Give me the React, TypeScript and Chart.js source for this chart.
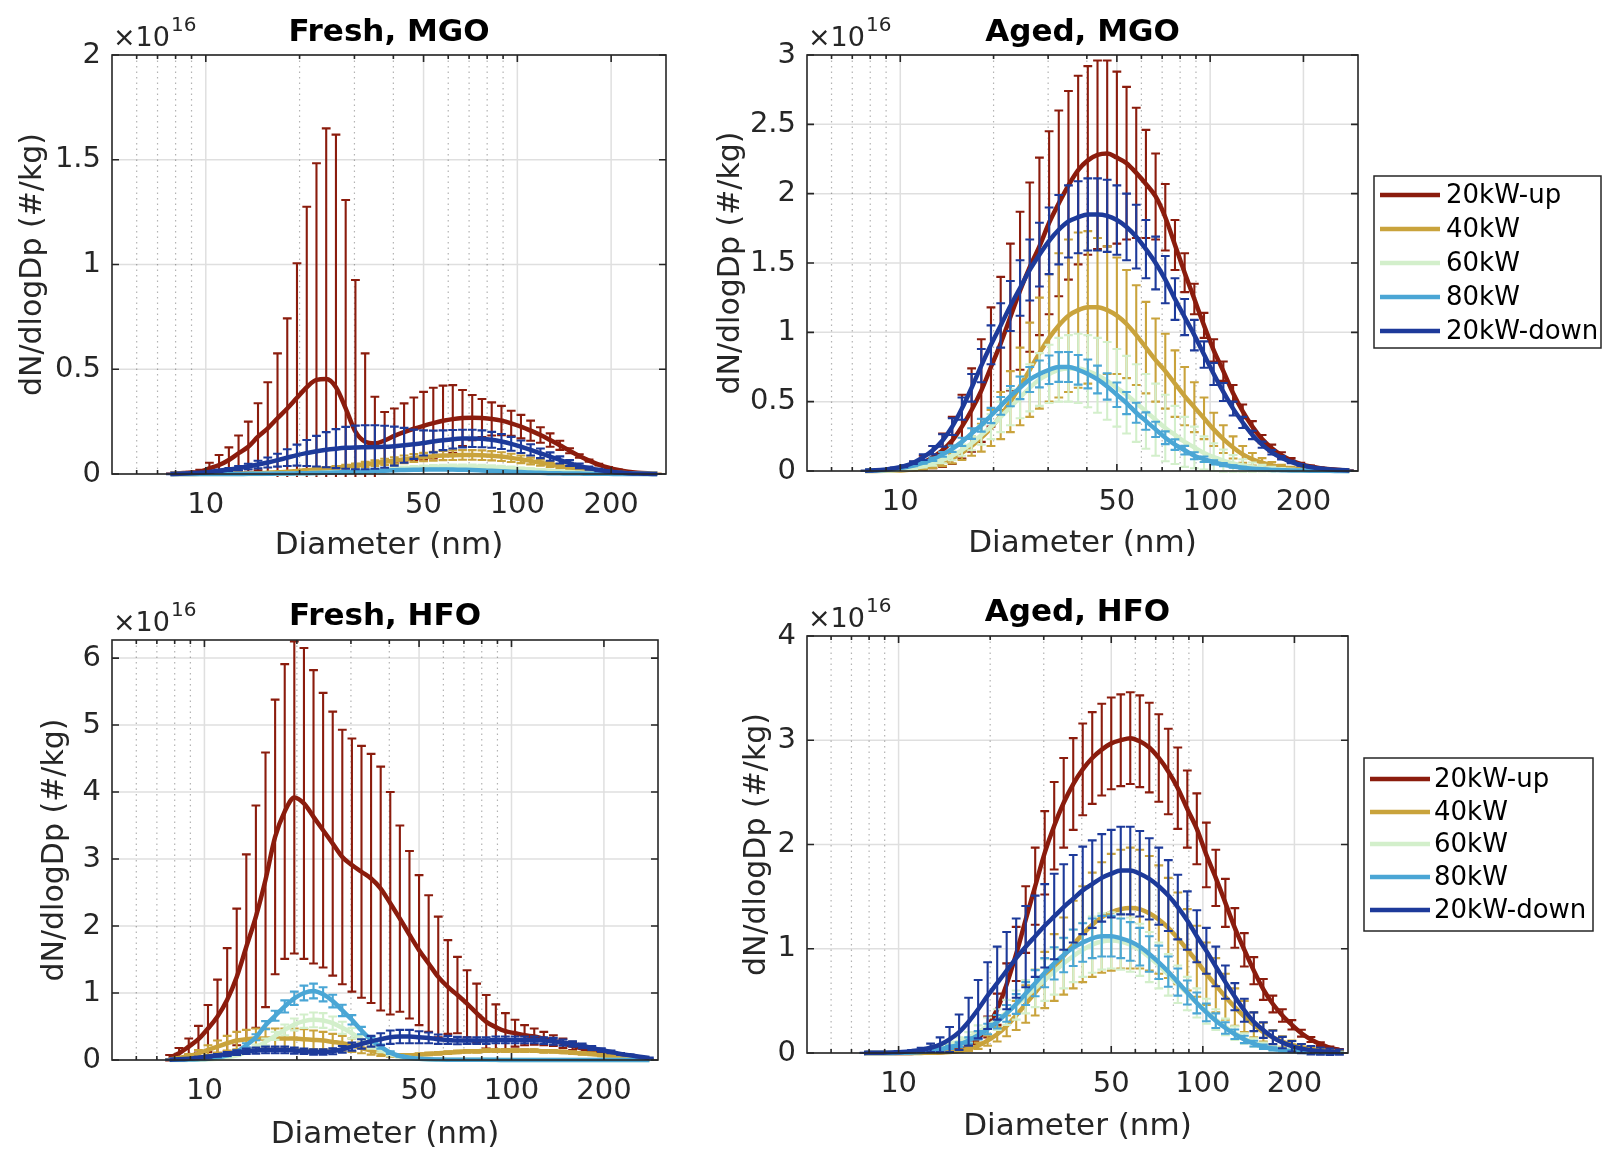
import React, { useEffect, useRef } from 'react';
import { Chart, registerables } from 'chart.js';

Chart.register(...registerables);

const FONT = "'DejaVu Sans', sans-serif";

// Particle diameters (nm), shared by every panel
const diameters = [
  7.70, 8.27, 8.89, 9.56, 10.27, 11.03, 11.86, 12.74, 13.69, 14.71,
  15.81, 16.99, 18.26, 19.62, 21.09, 22.66, 24.35, 26.17, 28.12, 30.22,
  32.47, 34.89, 37.50, 40.29, 43.30, 46.53, 50.00, 53.73, 57.74, 62.05,
  66.68, 71.65, 77.00, 82.74, 88.92, 95.55, 102.7, 110.3, 118.6, 127.4,
  136.9, 147.1, 158.1, 169.9, 182.6, 196.2, 210.9, 226.6, 243.5, 261.7,
  281.2,
];

const seriesLabels = ['20kW-up', '40kW', '60kW', '80kW', '20kW-down'];
const seriesColors = ['#8b1c0d', '#c9a33c', '#d3efcb', '#4aa6d5', '#1d3a9a'];

const xLabelTicks = [10, 50, 100, 200];
const xMinorTicks = [6, 7, 8, 9, 20, 30, 40, 60, 70, 80, 90];
const xGridTicks = [6, 7, 8, 9, 10, 20, 30, 40, 50, 60, 70, 80, 90, 100, 200];

const freshMgoYTicks = [0, 0.5, 1, 1.5, 2];
const agedMgoYTicks = [0, 0.5, 1, 1.5, 2, 2.5, 3];
const freshHfoYTicks = [0, 1, 2, 3, 4, 5, 6];
const agedHfoYTicks = [0, 1, 2, 3, 4];

// ---------- Fresh, MGO (x1e16 #/kg) ----------
const freshMgoUp = [
  0.002, 0.004, 0.006, 0.01, 0.027, 0.043, 0.067, 0.099, 0.13, 0.178,
  0.218, 0.266, 0.313, 0.364, 0.414, 0.449, 0.453, 0.414, 0.313, 0.202,
  0.154, 0.146, 0.16, 0.182, 0.2, 0.216, 0.23, 0.243, 0.254, 0.262,
  0.267, 0.269, 0.267, 0.263, 0.255, 0.242, 0.226, 0.207, 0.186, 0.162,
  0.137, 0.111, 0.086, 0.064, 0.045, 0.03, 0.019, 0.011, 0.006, 0.003,
  0.001,
];
const freshMgoUpErr = [
  0, 0.002, 0.004, 0.01, 0.027, 0.048, 0.06, 0.085, 0.12, 0.16,
  0.22, 0.31, 0.43, 0.642, 0.862, 1.034, 1.197, 1.206, 0.995, 0.724,
  0.422, 0.223, 0.136, 0.131, 0.137, 0.149, 0.162, 0.169, 0.168, 0.162,
  0.134, 0.108, 0.091, 0.079, 0.07, 0.06, 0.056, 0.048, 0.037, 0.032,
  0.022, 0.012, 0.008, 0.005, 0.004, 0.003, 0.002, 0.001, 0.001, 0.001,
  0,
];
const freshMgo40 = [
  0, 0, 0, 0.001, 0.001, 0.001, 0.002, 0.002, 0.003, 0.004,
  0.006, 0.008, 0.011, 0.014, 0.018, 0.022, 0.026, 0.03, 0.035, 0.04,
  0.046, 0.052, 0.058, 0.064, 0.07, 0.076, 0.081, 0.085, 0.088, 0.09,
  0.091, 0.091, 0.09, 0.087, 0.083, 0.077, 0.07, 0.062, 0.054, 0.046,
  0.038, 0.031, 0.024, 0.018, 0.013, 0.009, 0.006, 0.004, 0.002, 0.001,
  0.001,
];
const freshMgo40Err = [
  0, 0, 0, 0, 0, 0, 0.001, 0.001, 0.001, 0.001,
  0.002, 0.002, 0.003, 0.004, 0.005, 0.006, 0.007, 0.008, 0.009, 0.01,
  0.012, 0.013, 0.015, 0.016, 0.018, 0.019, 0.02, 0.021, 0.022, 0.023,
  0.023, 0.023, 0.023, 0.022, 0.021, 0.02, 0.018, 0.016, 0.014, 0.012,
  0.01, 0.008, 0.006, 0.005, 0.004, 0.003, 0.002, 0.001, 0.001, 0,
  0,
];
const freshMgo60 = [
  0, 0, 0, 0, 0, 0, 0, 0, 0, 0,
  0.001, 0.001, 0.002, 0.003, 0.004, 0.005, 0.007, 0.009, 0.011, 0.013,
  0.016, 0.019, 0.022, 0.025, 0.027, 0.029, 0.031, 0.033, 0.034, 0.035,
  0.035, 0.035, 0.034, 0.032, 0.03, 0.027, 0.024, 0.021, 0.018, 0.015,
  0.012, 0.009, 0.007, 0.005, 0.004, 0.003, 0.002, 0.001, 0.001, 0,
  0,
];
const freshMgo60Err = [
  0, 0, 0, 0, 0, 0, 0, 0, 0, 0,
  0, 0, 0.001, 0.001, 0.001, 0.002, 0.002, 0.003, 0.003, 0.004,
  0.005, 0.006, 0.007, 0.008, 0.008, 0.009, 0.009, 0.01, 0.01, 0.01,
  0.01, 0.01, 0.01, 0.01, 0.009, 0.008, 0.007, 0.006, 0.005, 0.005,
  0.004, 0.003, 0.002, 0.002, 0.001, 0.001, 0.001, 0, 0, 0,
  0,
];
const freshMgo80 = [
  0, 0, 0, 0, 0, 0, 0, 0, 0.001, 0.001,
  0.001, 0.002, 0.002, 0.003, 0.004, 0.005, 0.006, 0.007, 0.009, 0.01,
  0.012, 0.014, 0.016, 0.018, 0.019, 0.02, 0.021, 0.022, 0.022, 0.021,
  0.02, 0.019, 0.017, 0.015, 0.013, 0.011, 0.009, 0.007, 0.006, 0.004,
  0.003, 0.002, 0.002, 0.001, 0.001, 0.001, 0, 0, 0, 0,
  0,
];
const freshMgo80Err = [
  0, 0, 0, 0, 0, 0, 0, 0, 0, 0,
  0, 0, 0, 0.001, 0.001, 0.001, 0.001, 0.001, 0.002, 0.002,
  0.002, 0.002, 0.003, 0.003, 0.003, 0.003, 0.003, 0.003, 0.003, 0.003,
  0.003, 0.003, 0.003, 0.002, 0.002, 0.002, 0.001, 0.001, 0.001, 0.001,
  0, 0, 0, 0, 0, 0, 0, 0, 0, 0,
  0,
];
const freshMgoDown = [
  0, 0.001, 0.003, 0.006, 0.01, 0.015, 0.021, 0.028, 0.036, 0.045,
  0.055, 0.066, 0.078, 0.09, 0.1, 0.109, 0.116, 0.121, 0.125, 0.127,
  0.128, 0.129, 0.13, 0.133, 0.137, 0.142, 0.148, 0.155, 0.161, 0.166,
  0.169, 0.17, 0.168, 0.163, 0.155, 0.144, 0.13, 0.115, 0.099, 0.083,
  0.067, 0.052, 0.039, 0.028, 0.019, 0.012, 0.007, 0.004, 0.002, 0.001,
  0,
];
const freshMgoDownErr = [
  0.001, 0.001, 0.002, 0.003, 0.004, 0.005, 0.007, 0.01, 0.013, 0.018,
  0.024, 0.031, 0.04, 0.05, 0.062, 0.073, 0.084, 0.093, 0.1, 0.104,
  0.105, 0.104, 0.1, 0.093, 0.083, 0.07, 0.06, 0.052, 0.047, 0.044,
  0.042, 0.041, 0.04, 0.038, 0.036, 0.033, 0.03, 0.027, 0.023, 0.02,
  0.017, 0.014, 0.011, 0.008, 0.006, 0.004, 0.003, 0.002, 0.001, 0.001,
  0,
];

// ---------- Aged, MGO ----------
const agedMgoUp = [
  0.001, 0.002, 0.005, 0.01, 0.02, 0.036, 0.06, 0.1, 0.15, 0.22,
  0.32, 0.44, 0.58, 0.75, 0.92, 1.11, 1.3, 1.47, 1.62, 1.79,
  1.93, 2.06, 2.17, 2.24, 2.28, 2.29, 2.26, 2.22, 2.15, 2.07,
  1.98, 1.83, 1.63, 1.43, 1.24, 1.05, 0.87, 0.72, 0.56, 0.43,
  0.32, 0.23, 0.165, 0.115, 0.078, 0.05, 0.032, 0.02, 0.012, 0.007,
  0.004,
];
const agedMgoUpErr = [
  0.001, 0.002, 0.004, 0.008, 0.015, 0.03, 0.05, 0.08, 0.12, 0.17,
  0.23, 0.3, 0.37, 0.43, 0.48, 0.53, 0.57, 0.61, 0.64, 0.66,
  0.67, 0.68, 0.68, 0.68, 0.68, 0.67, 0.62, 0.55, 0.47, 0.39,
  0.31, 0.24, 0.18, 0.14, 0.11, 0.09, 0.08, 0.07, 0.06, 0.05,
  0.04, 0.03, 0.025, 0.02, 0.015, 0.01, 0.007, 0.005, 0.003, 0.002,
  0.001,
];
const agedMgo40 = [
  0, 0, 0.001, 0.003, 0.006, 0.012, 0.022, 0.037, 0.06, 0.09,
  0.13, 0.18, 0.24, 0.31, 0.4, 0.5, 0.61, 0.73, 0.85, 0.96,
  1.05, 1.12, 1.16, 1.18, 1.18, 1.16, 1.12, 1.06, 0.98, 0.89,
  0.8, 0.72, 0.63, 0.54, 0.46, 0.38, 0.3, 0.23, 0.17, 0.12,
  0.085, 0.06, 0.04, 0.027, 0.018, 0.012, 0.008, 0.005, 0.003, 0.002,
  0.001,
];
const agedMgo40Err = [
  0, 0, 0.001, 0.002, 0.003, 0.006, 0.01, 0.016, 0.025, 0.035,
  0.05, 0.07, 0.1, 0.13, 0.17, 0.22, 0.28, 0.34, 0.4, 0.46,
  0.52, 0.55, 0.56, 0.55, 0.5, 0.46, 0.42, 0.39, 0.36, 0.33,
  0.3, 0.27, 0.24, 0.21, 0.18, 0.15, 0.12, 0.1, 0.08, 0.06,
  0.045, 0.033, 0.024, 0.017, 0.012, 0.008, 0.005, 0.003, 0.002, 0.001,
  0.001,
];
const agedMgo60 = [
  0, 0.001, 0.003, 0.006, 0.012, 0.022, 0.036, 0.055, 0.08, 0.11,
  0.15, 0.2, 0.26, 0.32, 0.39, 0.46, 0.53, 0.6, 0.66, 0.7,
  0.73, 0.74, 0.74, 0.72, 0.69, 0.65, 0.6, 0.55, 0.49, 0.43,
  0.37, 0.31, 0.26, 0.21, 0.17, 0.13, 0.1, 0.075, 0.055, 0.04,
  0.028, 0.02, 0.014, 0.01, 0.007, 0.005, 0.003, 0.002, 0.001, 0.001,
  0,
];
const agedMgo60Err = [
  0, 0, 0.001, 0.002, 0.004, 0.007, 0.011, 0.017, 0.024, 0.032,
  0.04, 0.05, 0.07, 0.09, 0.11, 0.13, 0.15, 0.17, 0.19, 0.21,
  0.23, 0.24, 0.25, 0.26, 0.27, 0.28, 0.28, 0.28, 0.28, 0.27,
  0.26, 0.24, 0.21, 0.18, 0.15, 0.12, 0.1, 0.08, 0.06, 0.045,
  0.033, 0.024, 0.017, 0.012, 0.008, 0.005, 0.003, 0.002, 0.001, 0.001,
  0,
];
const agedMgo80 = [
  0.001, 0.003, 0.007, 0.014, 0.025, 0.04, 0.06, 0.085, 0.12, 0.16,
  0.21, 0.27, 0.33, 0.4, 0.47, 0.54, 0.6, 0.66, 0.7, 0.73,
  0.75, 0.75, 0.73, 0.7, 0.66, 0.61, 0.55, 0.49, 0.42, 0.36,
  0.3, 0.24, 0.19, 0.15, 0.11, 0.085, 0.063, 0.046, 0.033, 0.024,
  0.017, 0.012, 0.008, 0.006, 0.004, 0.003, 0.002, 0.001, 0.001, 0,
  0,
];
const agedMgo80Err = [
  0, 0.001, 0.001, 0.002, 0.003, 0.005, 0.008, 0.012, 0.017, 0.023,
  0.03, 0.038, 0.046, 0.055, 0.064, 0.073, 0.082, 0.09, 0.097, 0.103,
  0.107, 0.108, 0.107, 0.104, 0.1, 0.095, 0.088, 0.08, 0.072, 0.063,
  0.055, 0.046, 0.038, 0.031, 0.025, 0.02, 0.015, 0.012, 0.009, 0.007,
  0.005, 0.004, 0.003, 0.002, 0.001, 0.001, 0.001, 0, 0, 0,
  0,
];
const agedMgoDown = [
  0.002, 0.005, 0.01, 0.02, 0.035, 0.06, 0.1, 0.15, 0.22, 0.32,
  0.45, 0.6, 0.76, 0.91, 1.05, 1.19, 1.32, 1.45, 1.56, 1.66,
  1.74, 1.8, 1.83, 1.85, 1.85, 1.84, 1.81, 1.76, 1.69, 1.6,
  1.5, 1.38, 1.24, 1.11, 0.98, 0.84, 0.7, 0.57, 0.45, 0.35,
  0.26, 0.19, 0.135, 0.095, 0.065, 0.043, 0.028, 0.018, 0.011, 0.007,
  0.004,
];
const agedMgoDownErr = [
  0, 0.001, 0.002, 0.004, 0.007, 0.01, 0.02, 0.03, 0.045, 0.06,
  0.08, 0.1, 0.12, 0.14, 0.16, 0.18, 0.2, 0.22, 0.23, 0.24,
  0.25, 0.26, 0.26, 0.26, 0.26, 0.26, 0.25, 0.24, 0.23, 0.21,
  0.19, 0.17, 0.15, 0.13, 0.11, 0.095, 0.08, 0.065, 0.05, 0.04,
  0.03, 0.022, 0.016, 0.012, 0.008, 0.005, 0.003, 0.002, 0.001, 0.001,
  0,
];

// ---------- Fresh, HFO ----------
const freshHfoUp = [
  0.035, 0.1, 0.2, 0.31, 0.47, 0.65, 0.9, 1.24, 1.69, 2.14,
  2.69, 3.33, 3.71, 3.92, 3.83, 3.63, 3.43, 3.23, 3.03, 2.91,
  2.81, 2.71, 2.56, 2.34, 2.11, 1.87, 1.64, 1.44, 1.24, 1.09,
  0.97, 0.84, 0.7, 0.57, 0.49, 0.43, 0.4, 0.37, 0.35, 0.32,
  0.29, 0.25, 0.21, 0.17, 0.14, 0.11, 0.08, 0.055, 0.035, 0.02,
  0.01,
];
const freshHfoUpErr = [
  0.04, 0.08, 0.12, 0.2, 0.35, 0.55, 0.77, 1.02, 1.38, 1.66,
  1.9, 2.05, 2.2, 2.33, 2.32, 2.19, 2.05, 1.97, 1.9, 1.89,
  1.88, 1.86, 1.82, 1.66, 1.39, 1.25, 1.12, 1.02, 0.9, 0.7,
  0.57, 0.5, 0.44, 0.4, 0.34, 0.27, 0.2, 0.15, 0.12, 0.1,
  0.08, 0.07, 0.06, 0.05, 0.03, 0.02, 0.015, 0.01, 0.005, 0.005,
  0.003,
];
const freshHfo40 = [
  0.01, 0.03, 0.06, 0.1, 0.15, 0.2, 0.25, 0.29, 0.31, 0.32,
  0.32, 0.32, 0.32, 0.32, 0.31, 0.3, 0.29, 0.27, 0.25, 0.22,
  0.18, 0.14, 0.1, 0.08, 0.07, 0.07, 0.08, 0.09, 0.1, 0.11,
  0.12, 0.13, 0.13, 0.14, 0.14, 0.14, 0.14, 0.14, 0.14, 0.13,
  0.13, 0.12, 0.11, 0.1, 0.09, 0.07, 0.06, 0.045, 0.03, 0.02,
  0.01,
];
const freshHfo40Err = [
  0.005, 0.015, 0.03, 0.05, 0.07, 0.09, 0.11, 0.13, 0.14, 0.15,
  0.15, 0.15, 0.15, 0.15, 0.15, 0.14, 0.13, 0.12, 0.11, 0.1,
  0.08, 0.06, 0.04, 0.03, 0.02, 0.02, 0.02, 0.02, 0.02, 0.02,
  0.02, 0.02, 0.02, 0.02, 0.02, 0.02, 0.02, 0.02, 0.02, 0.02,
  0.02, 0.02, 0.02, 0.02, 0.02, 0.015, 0.015, 0.01, 0.01, 0.005,
  0.005,
];
const freshHfo60 = [
  0, 0, 0.002, 0.005, 0.01, 0.02, 0.04, 0.07, 0.12, 0.19,
  0.27, 0.36, 0.45, 0.53, 0.58, 0.6, 0.59, 0.55, 0.48, 0.4,
  0.31, 0.22, 0.15, 0.09, 0.05, 0.03, 0.02, 0.012, 0.008, 0.005,
  0.004, 0.003, 0.002, 0.002, 0.001, 0.001, 0.001, 0.001, 0.001, 0.001,
  0, 0, 0, 0, 0, 0, 0, 0, 0, 0,
  0,
];
const freshHfo60Err = [
  0, 0, 0.001, 0.002, 0.003, 0.005, 0.01, 0.015, 0.03, 0.04,
  0.05, 0.06, 0.08, 0.09, 0.1, 0.11, 0.11, 0.1, 0.09, 0.08,
  0.06, 0.05, 0.035, 0.025, 0.015, 0.01, 0.005, 0.003, 0.002, 0.001,
  0.001, 0.001, 0, 0, 0, 0, 0, 0, 0, 0,
  0, 0, 0, 0, 0, 0, 0, 0, 0, 0,
  0,
];
const freshHfo80 = [
  0.002, 0.004, 0.007, 0.012, 0.02, 0.04, 0.07, 0.12, 0.22, 0.34,
  0.52, 0.66, 0.8, 0.92, 1.0, 1.03, 0.98, 0.88, 0.74, 0.6,
  0.44, 0.3, 0.2, 0.11, 0.06, 0.035, 0.02, 0.012, 0.008, 0.005,
  0.004, 0.003, 0.002, 0.002, 0.002, 0.001, 0.001, 0.001, 0.001, 0.001,
  0.001, 0.001, 0.001, 0.001, 0.001, 0.001, 0.001, 0.001, 0.001, 0.001,
  0.001,
];
const freshHfo80Err = [
  0.001, 0.002, 0.003, 0.004, 0.006, 0.01, 0.015, 0.02, 0.03, 0.045,
  0.06, 0.075, 0.09, 0.1, 0.11, 0.11, 0.105, 0.095, 0.085, 0.07,
  0.055, 0.04, 0.03, 0.02, 0.012, 0.008, 0.005, 0.003, 0.002, 0.002,
  0.001, 0.001, 0.001, 0.001, 0.001, 0.001, 0.001, 0.001, 0.001, 0.001,
  0.001, 0.001, 0.001, 0.001, 0.001, 0.001, 0.001, 0.001, 0.001, 0.001,
  0.001,
];
const freshHfoDown = [
  0.005, 0.01, 0.02, 0.035, 0.05, 0.07, 0.09, 0.11, 0.13, 0.14,
  0.15, 0.15, 0.15, 0.14, 0.13, 0.12, 0.12, 0.13, 0.16, 0.2,
  0.24, 0.28, 0.31, 0.34, 0.35, 0.35, 0.34, 0.33, 0.31, 0.3,
  0.29, 0.29, 0.29, 0.29, 0.3, 0.3, 0.3, 0.3, 0.3, 0.29,
  0.28, 0.26, 0.24, 0.21, 0.18, 0.15, 0.12, 0.09, 0.07, 0.05,
  0.03,
];
const freshHfoDownErr = [
  0.002, 0.005, 0.008, 0.012, 0.016, 0.02, 0.03, 0.035, 0.04, 0.045,
  0.05, 0.05, 0.05, 0.045, 0.04, 0.04, 0.04, 0.045, 0.05, 0.06,
  0.07, 0.08, 0.09, 0.1, 0.1, 0.1, 0.09, 0.08, 0.07, 0.06,
  0.055, 0.05, 0.05, 0.05, 0.05, 0.05, 0.05, 0.05, 0.05, 0.05,
  0.05, 0.045, 0.04, 0.035, 0.03, 0.025, 0.02, 0.015, 0.01, 0.008,
  0.005,
];

// ---------- Aged, HFO ----------
const agedHfoUp = [
  0, 0, 0, 0, 0, 0.001, 0.002, 0.004, 0.008, 0.017,
  0.035, 0.07, 0.14, 0.25, 0.42, 0.66, 0.95, 1.28, 1.6, 1.92,
  2.18, 2.4, 2.58, 2.72, 2.83, 2.91, 2.97, 3.0, 3.02, 2.99,
  2.93, 2.83, 2.7, 2.54, 2.34, 2.15, 1.9, 1.68, 1.44, 1.2,
  0.99, 0.79, 0.61, 0.47, 0.36, 0.27, 0.19, 0.13, 0.085, 0.05,
  0.03,
];
const agedHfoUpErr = [
  0, 0, 0, 0, 0, 0.001, 0.002, 0.004, 0.007, 0.012,
  0.02, 0.04, 0.06, 0.1, 0.15, 0.2, 0.26, 0.32, 0.37, 0.4,
  0.42, 0.43, 0.44, 0.44, 0.44, 0.44, 0.44, 0.44, 0.44, 0.44,
  0.43, 0.42, 0.41, 0.39, 0.37, 0.34, 0.31, 0.27, 0.23, 0.19,
  0.16, 0.13, 0.1, 0.08, 0.06, 0.045, 0.033, 0.024, 0.017, 0.012,
  0.008,
];
const agedHfo40 = [
  0, 0, 0, 0, 0, 0, 0.001, 0.002, 0.005, 0.01,
  0.02, 0.04, 0.07, 0.12, 0.18, 0.26, 0.36, 0.47, 0.58, 0.7,
  0.82, 0.93, 1.04, 1.14, 1.23, 1.3, 1.35, 1.38, 1.39, 1.38,
  1.34, 1.28, 1.2, 1.1, 0.99, 0.88, 0.76, 0.65, 0.54, 0.44,
  0.35, 0.27, 0.2, 0.15, 0.11, 0.08, 0.055, 0.038, 0.026, 0.018,
  0.012,
];
const agedHfo40Err = [
  0, 0, 0, 0, 0, 0, 0.001, 0.002, 0.003, 0.005,
  0.01, 0.02, 0.03, 0.05, 0.07, 0.1, 0.14, 0.18, 0.22, 0.27,
  0.32, 0.37, 0.42, 0.46, 0.5, 0.53, 0.56, 0.57, 0.58, 0.57,
  0.55, 0.52, 0.48, 0.44, 0.39, 0.34, 0.3, 0.26, 0.22, 0.18,
  0.15, 0.12, 0.09, 0.07, 0.05, 0.04, 0.03, 0.02, 0.015, 0.01,
  0.008,
];
const agedHfo60 = [
  0, 0, 0, 0.001, 0.003, 0.01, 0.02, 0.035, 0.055, 0.08,
  0.11, 0.15, 0.2, 0.26, 0.32, 0.39, 0.46, 0.54, 0.62, 0.7,
  0.78, 0.86, 0.93, 0.99, 1.04, 1.07, 1.08, 1.07, 1.04, 0.99,
  0.92, 0.84, 0.75, 0.66, 0.57, 0.48, 0.4, 0.32, 0.25, 0.19,
  0.14, 0.1, 0.07, 0.05, 0.035, 0.025, 0.017, 0.012, 0.008, 0.005,
  0.003,
];
const agedHfo60Err = [
  0, 0, 0, 0.001, 0.002, 0.005, 0.01, 0.015, 0.02, 0.03,
  0.04, 0.05, 0.065, 0.08, 0.1, 0.12, 0.14, 0.16, 0.18, 0.2,
  0.22, 0.24, 0.25, 0.26, 0.27, 0.27, 0.27, 0.27, 0.26, 0.25,
  0.24, 0.22, 0.2, 0.18, 0.16, 0.14, 0.12, 0.1, 0.08, 0.065,
  0.05, 0.04, 0.03, 0.022, 0.016, 0.012, 0.008, 0.006, 0.004, 0.003,
  0.002,
];
const agedHfo80 = [
  0, 0, 0, 0, 0.002, 0.005, 0.01, 0.02, 0.035, 0.055,
  0.08, 0.12, 0.17, 0.23, 0.3, 0.38, 0.47, 0.57, 0.67, 0.77,
  0.86, 0.94, 1.01, 1.06, 1.1, 1.12, 1.12, 1.1, 1.07, 1.02,
  0.95, 0.87, 0.78, 0.68, 0.58, 0.48, 0.39, 0.31, 0.24, 0.18,
  0.13, 0.09, 0.06, 0.04, 0.026, 0.017, 0.011, 0.007, 0.005, 0.003,
  0.002,
];
const agedHfo80Err = [
  0, 0, 0, 0, 0.001, 0.003, 0.005, 0.008, 0.012, 0.017,
  0.022, 0.03, 0.04, 0.05, 0.065, 0.08, 0.095, 0.11, 0.125, 0.14,
  0.155, 0.165, 0.175, 0.185, 0.19, 0.195, 0.195, 0.19, 0.185, 0.18,
  0.17, 0.16, 0.145, 0.13, 0.115, 0.1, 0.085, 0.07, 0.055, 0.045,
  0.035, 0.027, 0.02, 0.015, 0.01, 0.007, 0.005, 0.003, 0.003, 0.003,
  0.003,
];
const agedHfoDown = [
  0.001, 0.002, 0.003, 0.006, 0.01, 0.018, 0.03, 0.05, 0.08, 0.13,
  0.2, 0.3, 0.42, 0.55, 0.67, 0.79, 0.91, 1.02, 1.12, 1.22,
  1.31, 1.4, 1.48, 1.56, 1.62, 1.68, 1.72, 1.75, 1.75, 1.72,
  1.67, 1.6, 1.51, 1.4, 1.27, 1.12, 0.98, 0.83, 0.68, 0.54,
  0.41, 0.3, 0.22, 0.15, 0.1, 0.065, 0.042, 0.027, 0.018, 0.012,
  0.008,
];
const agedHfoDownErr = [
  0.001, 0.001, 0.002, 0.003, 0.005, 0.01, 0.02, 0.04, 0.07, 0.12,
  0.17, 0.23, 0.28, 0.32, 0.35, 0.37, 0.38, 0.39, 0.39, 0.4,
  0.41, 0.41, 0.42, 0.42, 0.42, 0.42, 0.42, 0.42, 0.42, 0.41,
  0.39, 0.37, 0.34, 0.31, 0.28, 0.25, 0.22, 0.19, 0.16, 0.13,
  0.11, 0.09, 0.075, 0.065, 0.055, 0.05, 0.045, 0.04, 0.035, 0.03,
  0.025,
];

type LegendBox = { x: number; y: number; w: number; h: number; rows: number[]; lineX1: number; lineX2: number; textX: number };

type PanelDef = {
  key: string;
  title: string;
  left: number;
  top: number;
  width: number;
  height: number;
  area: { l: number; t: number; r: number; b: number };
  yMax: number;
  yTicks: number[];
  means: number[][];
  errs: number[][];
  titleBaseline: number;
  yTitlePad: number;
  xTitlePad: number;
  legend: LegendBox | null;
};

const panels: PanelDef[] = [
  {
    key: 'fm', title: 'Fresh, MGO', left: 0, top: 0, width: 700, height: 576,
    area: { l: 112, t: 55, r: 666, b: 474 }, yMax: 2, yTicks: freshMgoYTicks,
    means: [freshMgoUp, freshMgo40, freshMgo60, freshMgo80, freshMgoDown],
    errs: [freshMgoUpErr, freshMgo40Err, freshMgo60Err, freshMgo80Err, freshMgoDownErr],
    titleBaseline: 41, yTitlePad: 18, xTitlePad: 15, legend: null,
  },
  {
    key: 'am', title: 'Aged, MGO', left: 700, top: 0, width: 902, height: 576,
    area: { l: 107, t: 55, r: 658, b: 471 }, yMax: 3, yTicks: agedMgoYTicks,
    means: [agedMgoUp, agedMgo40, agedMgo60, agedMgo80, agedMgoDown],
    errs: [agedMgoUpErr, agedMgo40Err, agedMgo60Err, agedMgo80Err, agedMgoDownErr],
    titleBaseline: 41, yTitlePad: 16, xTitlePad: 17,
    legend: { x: 674, y: 176, w: 227, h: 172, rows: [195, 229, 263, 297, 331], lineX1: 680, lineX2: 740, textX: 746 },
  },
  {
    key: 'fh', title: 'Fresh, HFO', left: 0, top: 576, width: 700, height: 576,
    area: { l: 112, t: 64, r: 658, b: 484 }, yMax: 6.27, yTicks: freshHfoYTicks,
    means: [freshHfoUp, freshHfo40, freshHfo60, freshHfo80, freshHfoDown],
    errs: [freshHfoUpErr, freshHfo40Err, freshHfo60Err, freshHfo80Err, freshHfoDownErr],
    titleBaseline: 49, yTitlePad: 40, xTitlePad: 2, legend: null,
  },
  {
    key: 'ah', title: 'Aged, HFO', left: 700, top: 576, width: 902, height: 576,
    area: { l: 107, t: 60, r: 648, b: 477 }, yMax: 4, yTicks: agedHfoYTicks,
    means: [agedHfoUp, agedHfo40, agedHfo60, agedHfo80, agedHfoDown],
    errs: [agedHfoUpErr, agedHfo40Err, agedHfo60Err, agedHfo80Err, agedHfoDownErr],
    titleBaseline: 45, yTitlePad: 42, xTitlePad: 10,
    legend: { x: 664, y: 182, w: 229, h: 173, rows: [203, 236, 268, 301, 334], lineX1: 670, lineX2: 730, textX: 734 },
  },
];

const CAP = 4.4;

function makeDecor(p: PanelDef) {
  return {
    id: 'decor_' + p.key,
    beforeDatasetsDraw(chart: any) {
      const { ctx, chartArea: a } = chart;
      const xs = chart.scales.x;
      const ys = chart.scales.y;
      ctx.save();
      ctx.strokeStyle = 'rgba(38,38,38,0.15)';
      ctx.lineWidth = 1.5;
      ctx.beginPath();
      for (const v of p.yTicks) {
        const y = ys.getPixelForValue(v);
        ctx.moveTo(a.left, y);
        ctx.lineTo(a.right, y);
      }
      for (const v of xLabelTicks) {
        const x = xs.getPixelForValue(v);
        ctx.moveTo(x, a.top);
        ctx.lineTo(x, a.bottom);
      }
      ctx.stroke();
      ctx.setLineDash([1.5, 4]);
      ctx.strokeStyle = 'rgba(38,38,38,0.35)';
      ctx.lineWidth = 1.2;
      ctx.beginPath();
      for (const v of xMinorTicks) {
        const x = xs.getPixelForValue(v);
        ctx.moveTo(x, a.top);
        ctx.lineTo(x, a.bottom);
      }
      ctx.stroke();
      ctx.restore();
    },
    beforeDatasetDraw(chart: any, args: any) {
      const ds = chart.data.datasets[args.index];
      const errs: number[] = ds.errors;
      const { ctx, chartArea: a } = chart;
      const xs = chart.scales.x;
      const ys = chart.scales.y;
      ctx.save();
      ctx.beginPath();
      ctx.rect(a.left, a.top - 2, a.right - a.left, a.bottom - a.top + 5);
      ctx.clip();
      ctx.strokeStyle = ds.borderColor;
      ctx.lineWidth = 2.1;
      ctx.beginPath();
      ds.data.forEach((pt: { x: number; y: number }, i: number) => {
        const x = xs.getPixelForValue(pt.x);
        const yt = ys.getPixelForValue(pt.y + errs[i]);
        const yb = ys.getPixelForValue(pt.y - errs[i]);
        ctx.moveTo(x, yt);
        ctx.lineTo(x, yb);
        ctx.moveTo(x - CAP, yt);
        ctx.lineTo(x + CAP, yt);
        ctx.moveTo(x - CAP, yb);
        ctx.lineTo(x + CAP, yb);
      });
      ctx.stroke();
      ctx.restore();
    },
    afterDatasetsDraw(chart: any) {
      const { ctx, chartArea: a } = chart;
      const xs = chart.scales.x;
      const ys = chart.scales.y;
      ctx.save();
      ctx.strokeStyle = '#262626';
      ctx.lineWidth = 1.6;
      ctx.strokeRect(a.left, a.top, a.right - a.left, a.bottom - a.top);
      ctx.beginPath();
      for (const v of p.yTicks) {
        const y = ys.getPixelForValue(v);
        ctx.moveTo(a.left, y);
        ctx.lineTo(a.left + 7, y);
        ctx.moveTo(a.right - 7, y);
        ctx.lineTo(a.right, y);
      }
      for (const v of xLabelTicks) {
        const x = xs.getPixelForValue(v);
        ctx.moveTo(x, a.bottom);
        ctx.lineTo(x, a.bottom - 7);
        ctx.moveTo(x, a.top);
        ctx.lineTo(x, a.top + 7);
      }
      for (const v of xMinorTicks) {
        const x = xs.getPixelForValue(v);
        ctx.moveTo(x, a.bottom);
        ctx.lineTo(x, a.bottom - 4);
        ctx.moveTo(x, a.top);
        ctx.lineTo(x, a.top + 4);
      }
      ctx.stroke();
      ctx.restore();
    },
    afterDraw(chart: any) {
      const { ctx, chartArea: a } = chart;
      ctx.save();
      // title
      ctx.fillStyle = '#000000';
      ctx.font = `bold 31px ${FONT}`;
      ctx.textAlign = 'center';
      ctx.textBaseline = 'alphabetic';
      ctx.fillText(p.title, (a.left + a.right) / 2, p.titleBaseline);
      // exponent label
      ctx.fillStyle = '#262626';
      ctx.textAlign = 'left';
      ctx.font = `27px ${FONT}`;
      const base = '\u00D710';
      ctx.fillText(base, a.left + 1, a.top - 9);
      const w = ctx.measureText(base).width;
      ctx.font = `20px ${FONT}`;
      ctx.fillText('16', a.left + 2 + w, a.top - 24);
      // legend
      if (p.legend) {
        const L = p.legend;
        ctx.fillStyle = '#ffffff';
        ctx.fillRect(L.x, L.y, L.w, L.h);
        ctx.strokeStyle = '#262626';
        ctx.lineWidth = 1.5;
        ctx.strokeRect(L.x, L.y, L.w, L.h);
        ctx.font = `26px ${FONT}`;
        ctx.textBaseline = 'middle';
        chart.data.datasets.forEach((ds: any, k: number) => {
          const y = L.rows[k];
          ctx.strokeStyle = ds.borderColor;
          ctx.lineWidth = 4.5;
          ctx.beginPath();
          ctx.moveTo(L.lineX1, y);
          ctx.lineTo(L.lineX2, y);
          ctx.stroke();
          ctx.fillStyle = '#000000';
          ctx.fillText(ds.label, L.textX, y + 1);
        });
      }
      ctx.restore();
    },
  };
}

function buildConfig(p: PanelDef): any {
  const datasets = seriesLabels.map((label, k) => ({
    label,
    data: diameters.map((d, i) => ({ x: d, y: p.means[k][i] })),
    errors: p.errs[k],
    borderColor: seriesColors[k],
    backgroundColor: seriesColors[k],
    borderWidth: 4.5,
    pointRadius: 0,
    pointHoverRadius: 0,
    fill: false,
    cubicInterpolationMode: 'monotone',
    order: seriesLabels.length - 1 - k,
    clip: 4,
  }));
  return {
    type: 'line',
    data: { datasets },
    plugins: [makeDecor(p)],
    options: {
      animation: false,
      responsive: false,
      maintainAspectRatio: false,
      devicePixelRatio: 1,
      events: [],
      layout: { padding: { left: 0, top: p.area.t, right: p.width - p.area.r, bottom: 0 } },
      plugins: {
        legend: { display: false },
        tooltip: { enabled: false },
        title: { display: false },
      },
      scales: {
        x: {
          type: 'logarithmic',
          min: 5,
          max: 300,
          afterBuildTicks: (s: any) => {
            s.ticks = xGridTicks.map((v) => ({ value: v }));
          },
          afterFit: (s: any) => {
            s.height = p.height - p.area.b;
          },
          grid: { display: false, drawTicks: false },
          border: { display: false },
          ticks: {
            autoSkip: false,
            maxRotation: 0,
            minRotation: 0,
            padding: 17,
            color: '#262626',
            font: { family: FONT, size: 29, lineHeight: 1 },
            callback: (v: any) => (xLabelTicks.includes(Number(v)) ? String(v) : ''),
          },
          title: {
            display: true,
            text: 'Diameter (nm)',
            color: '#262626',
            font: { family: FONT, size: 31, lineHeight: 1 },
            padding: { top: 0, bottom: p.xTitlePad },
          },
        },
        y: {
          type: 'linear',
          min: 0,
          max: p.yMax,
          afterBuildTicks: (s: any) => {
            s.ticks = p.yTicks.map((v) => ({ value: v }));
          },
          afterFit: (s: any) => {
            s.width = p.area.l;
          },
          grid: { display: false, drawTicks: false },
          border: { display: false },
          ticks: {
            padding: 11,
            color: '#262626',
            font: { family: FONT, size: 29, lineHeight: 1 },
            callback: (v: any) => String(v),
          },
          title: {
            display: true,
            text: 'dN/dlogDp (#/kg)',
            color: '#262626',
            font: { family: FONT, size: 30, lineHeight: 1 },
            padding: { top: p.yTitlePad, bottom: 0 },
          },
        },
      },
    },
  };
}

function Panel({ p }: { p: PanelDef }) {
  const ref = useRef<HTMLCanvasElement | null>(null);
  useEffect(() => {
    if (!ref.current) return;
    const chart = new Chart(ref.current, buildConfig(p));
    return () => chart.destroy();
  }, [p]);
  return (
    <canvas
      ref={ref}
      width={p.width}
      height={p.height}
      style={{ position: 'absolute', left: p.left, top: p.top, width: p.width, height: p.height }}
    />
  );
}

export default function App() {
  return (
    <div
      style={{
        position: 'fixed',
        left: 0,
        top: 0,
        width: 1602,
        height: 1152,
        background: '#ffffff',
        overflow: 'hidden',
      }}
    >
      {panels.map((p) => (
        <Panel key={p.key} p={p} />
      ))}
    </div>
  );
}
